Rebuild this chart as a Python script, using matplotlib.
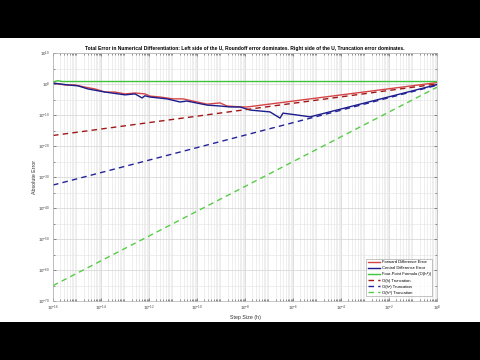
import numpy as np
import matplotlib.pyplot as plt
from matplotlib.ticker import FixedLocator, LogLocator, NullFormatter
from matplotlib.patches import Rectangle

plt.rcParams['font.family'] = ['Liberation Sans', 'DejaVu Sans']

# log10(h) and log10(error)
fwd_logh = [-16, -15.5, -15.08, -14.67, -14.25, -13.83, -13.42, -13.0, -12.58, -12.17,
            -11.96, -11.54, -11.0, -10.58, -10.17, -9.58, -9.04, -8.75, -8.21, -7.9, 0]
fwd_logerr = [0.3, -0.3, -0.3, -1.0, -1.6, -2.6, -2.6, -3.2, -2.9, -3.2,
              -3.9, -4.2, -4.8, -4.8, -5.5, -6.5, -6.1, -7.1, -7.4, -7.4, 0.45]

cen_logh = [-16, -15.38, -14.96, -14.54, -13.83, -13.0, -12.58, -12.29, -12.17, -11.96,
            -11.25, -10.71, -10.42, -9.58, -9.04, -8.63, -8.21, -7.79, -7.38, -6.96,
            -6.54, -6.42, -5.83, -5.29, 0]
cen_logerr = [0.3, -0.3, -0.6, -1.6, -2.6, -3.5, -3.2, -4.5, -3.8, -4.2,
              -4.8, -5.8, -5.5, -6.8, -7.1, -7.4, -7.4, -8.4, -8.7, -9.0,
              -11.0, -9.4, -10.0, -10.6, -0.2]

four_logh = [-16, -15.8, -15.6, 0]
four_logerr = [0.7, 1.05, 0.8, 0.8]

trunc_logh = [-16, 0]
o1_logerr = [-16.6, 0.0]
o2_logerr = [-32.6, -0.4]
o4_logerr = [-65.04, -1.04]

def p(v):
    return 10.0 ** np.array(v)

fig = plt.figure(figsize=(4.8, 3.6), dpi=100, facecolor='black')
fig.patches.append(Rectangle((0, 38 / 360), 1, 284 / 360, transform=fig.transFigure,
                             facecolor='white', edgecolor='none', zorder=-1))
ax = fig.add_axes([53 / 480, 59 / 360, 384 / 480, 248 / 360])

ax.loglog(p(fwd_logh), p(fwd_logerr), color='#d64545', lw=1.0, label='Forward Difference Error')
ax.loglog(p(cen_logh), p(cen_logerr), color='#1c1c8c', lw=1.0, label='Central Difference Error')
ax.loglog(p(four_logh), p(four_logerr), color='#3fc43a', lw=1.0, label='Four-Point Formula (O(h⁴))')
ax.loglog(p(trunc_logh), p(o1_logerr), '--', color='#a01818', lw=1.0, dashes=(4, 3), label='O(h) Truncation')
ax.loglog(p(trunc_logh), p(o2_logerr), '--', color='#23239a', lw=1.0, dashes=(4, 3), label='O(h²) Truncation')
ax.loglog(p(trunc_logh), p(o4_logerr), '--', color='#58cc48', lw=1.0, dashes=(4, 3), label='O(h⁴) Truncation')

ax.set_xlim(1e-16, 1)
ax.set_ylim(1e-70, 1e10)
ax.set_xticks([10.0 ** k for k in range(-16, 1, 2)])
ax.xaxis.set_minor_locator(LogLocator(base=10, subs=np.arange(2, 10), numticks=40))
ax.xaxis.set_minor_formatter(NullFormatter())
ax.set_yticks([10.0 ** k for k in range(-70, 11, 10)])
ax.yaxis.set_minor_locator(FixedLocator([10.0 ** k for k in range(-65, 10, 10)]))
ax.yaxis.set_minor_formatter(NullFormatter())

ax.grid(True, which='major', color='#d9d9d9', lw=0.6)
ax.grid(True, which='minor', color='#e8e8e8', lw=0.5)
ax.tick_params(which='both', direction='in', top=True, right=True, labelsize=3.2,
               colors='#404040', length=2, width=0.4, pad=2)
ax.tick_params(which='minor', length=1.2)
for s in ax.spines.values():
    s.set_color('#b0b0b0')
    s.set_linewidth(0.5)

ax.set_title('Total Error in Numerical Differentiation: Left side of the U, Roundoff error dominates. '
             'Right side of the U, Truncation error dominates.', fontsize=3.6, fontweight='bold', pad=2.5)
ax.set_xlabel('Step Size (h)', fontsize=3.8, color='#303030', labelpad=1.5)
ax.set_ylabel('Absolute Error', fontsize=3.8, color='#303030', labelpad=1)

leg = ax.legend(loc='lower right', fontsize=3.0, handlelength=3.0, frameon=True, fancybox=False,
                edgecolor='#808080', borderpad=0.4, labelspacing=0.5, handletextpad=0.3,
                borderaxespad=1.1)
leg.get_frame().set_linewidth(0.4)

fig.savefig('out.png', dpi=100, facecolor=fig.get_facecolor())
